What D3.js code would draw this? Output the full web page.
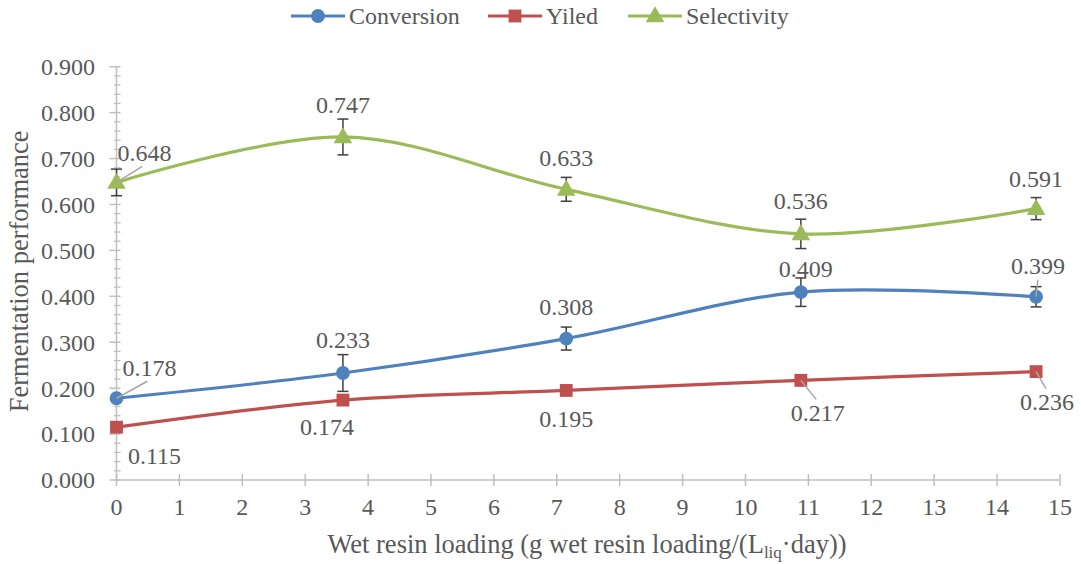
<!DOCTYPE html>
<html>
<head>
<meta charset="utf-8">
<script src="https://cdn.jsdelivr.net/npm/d3@7"></script>
<style>
  html, body { margin: 0; padding: 0; background: #fff; }
  svg { display: block; }
</style>
</head>
<body>
<svg id="chart" width="1081" height="564"></svg>
<script>
// Wet resin loading (x) for every series
const loading = [0, 3.6, 7.15, 10.88, 14.62];

// Series values
const conversion = [0.178, 0.233, 0.308, 0.409, 0.399];
const yiled = [0.115, 0.174, 0.195, 0.217, 0.236];
const selectivity = [0.648, 0.747, 0.633, 0.536, 0.591];

// Error bar half-widths
const conversionErr = [0, 0.040, 0.025, 0.031, 0.022];
const yiledErr = [0, 0, 0, 0, 0];
const selectivityErr = [0.029, 0.039, 0.026, 0.032, 0.024];

// Axis ticks
const xTicks = [0, 1, 2, 3, 4, 5, 6, 7, 8, 9, 10, 11, 12, 13, 14, 15];
const yTicks = [0, 0.1, 0.2, 0.3, 0.4, 0.5, 0.6, 0.7, 0.8, 0.9];

const seriesNames = ["Conversion", "Yiled", "Selectivity"];

// Label placement relative to each marker (pixels) and leader line flags
const labelPlacement = {
  Conversion: [[33, -31, true], [0, -33, false], [0, -32, false], [5, -24, false], [2, -31, true]],
  Yiled: [[38, 28, false], [-16, 27, false], [0, 28, false], [17, 32, true], [11, 30, true]],
  Selectivity: [[28, -30, true], [0, -32, false], [0, -32, false], [0, -33, false], [0, -30, false]]
};

const colors = { Conversion: "#4F81BD", Yiled: "#C0504D", Selectivity: "#9BBB59" };
const shapes = { Conversion: d3.symbolCircle, Yiled: d3.symbolSquare, Selectivity: d3.symbolTriangle };
const shapeSize = { Conversion: 150, Yiled: 165, Selectivity: 150 };
const textColor = "#595959";
const serif = "'Liberation Serif', 'Times New Roman', Tinos, serif";
const fontSize = 24;
const titleSize = 26.5;

const series = [
  { name: "Conversion", values: conversion, err: conversionErr },
  { name: "Yiled", values: yiled, err: yiledErr },
  { name: "Selectivity", values: selectivity, err: selectivityErr }
];

const svg = d3.select("#chart");
const x = d3.scaleLinear().domain([0, 15]).range([116.5, 1060]);
const y = d3.scaleLinear().domain([0, 0.9]).range([480, 66.7]);
const axisColor = "#BFBFBF";

function addText(sel, size) {
  return sel.append("text")
    .style("font-family", serif)
    .style("font-size", size + "px")
    .attr("fill", textColor);
}

// Y axis: line, major and minor ticks
const yAxis = svg.append("g");
yAxis.append("line")
  .attr("x1", x(0)).attr("x2", x(0))
  .attr("y1", y(0)).attr("y2", y(0.9))
  .attr("stroke", axisColor).attr("stroke-width", 1.5);
const minor = d3.range(0, 0.9001, 0.02).filter(v => Math.abs(v * 10 - Math.round(v * 10)) > 1e-6);
yAxis.selectAll("line.minor").data(minor).join("line")
  .attr("class", "minor")
  .attr("x1", x(0) - 2.5).attr("x2", x(0) + 4)
  .attr("y1", d => y(d)).attr("y2", d => y(d))
  .attr("stroke", axisColor).attr("stroke-width", 1.3);
yAxis.selectAll("line.major").data(yTicks).join("line")
  .attr("class", "major")
  .attr("x1", x(0) - 7).attr("x2", x(0) + 4)
  .attr("y1", d => y(d)).attr("y2", d => y(d))
  .attr("stroke", axisColor).attr("stroke-width", 1.5);
yTicks.forEach(d => {
  addText(yAxis, fontSize)
    .attr("x", 95).attr("y", y(d))
    .attr("dy", "0.35em")
    .attr("text-anchor", "end")
    .text(d3.format(".3f")(d));
});

// X axis
const xAxis = svg.append("g");
xAxis.append("line")
  .attr("x1", x(0)).attr("x2", x(15))
  .attr("y1", y(0)).attr("y2", y(0))
  .attr("stroke", axisColor).attr("stroke-width", 1.5);
xAxis.selectAll("line.tick").data(xTicks).join("line")
  .attr("class", "tick")
  .attr("x1", d => x(d)).attr("x2", d => x(d))
  .attr("y1", y(0) - 6).attr("y2", y(0) + 6)
  .attr("stroke", axisColor).attr("stroke-width", 1.5);
xTicks.forEach(d => {
  addText(xAxis, fontSize)
    .attr("x", x(d)).attr("y", 515)
    .attr("text-anchor", "middle")
    .text(d);
});

// Axis titles
addText(svg, titleSize)
  .attr("transform", "translate(19," + ((y(0) + y(0.9)) / 2 - 2) + ") rotate(-90)")
  .attr("text-anchor", "middle")
  .attr("dy", "0.35em")
  .text("Fermentation performance");

const xTitle = addText(svg, titleSize)
  .attr("x", 587).attr("y", 553)
  .attr("text-anchor", "middle");
xTitle.append("tspan").text("Wet resin loading (g wet resin loading/(L");
xTitle.append("tspan").style("font-size", "17px").attr("dy", 5).text("liq");
xTitle.append("tspan").attr("dy", -5).text("·day))");

// Smoothed series lines
const line = d3.line()
  .x((d, i) => x(loading[i]))
  .y(d => y(d))
  .curve(d3.curveCardinal.tension(0));

const plot = svg.append("g");
series.forEach(s => {
  plot.append("path")
    .datum(s.values)
    .attr("d", line)
    .attr("fill", "none")
    .attr("stroke", colors[s.name])
    .attr("stroke-width", 3.2)
    .attr("stroke-linecap", "round");
});

// Error bars
series.forEach(s => {
  const g = plot.append("g");
  s.values.forEach((v, i) => {
    if (!s.err[i]) return;
    const cx = x(loading[i]);
    const top = y(v + s.err[i]);
    const bot = y(v - s.err[i]);
    g.append("line").attr("x1", cx).attr("x2", cx).attr("y1", top).attr("y2", bot)
      .attr("stroke", "#404040").attr("stroke-width", 1.5);
    [top, bot].forEach(yy => {
      g.append("line").attr("x1", cx - 5.5).attr("x2", cx + 5.5).attr("y1", yy).attr("y2", yy)
        .attr("stroke", "#404040").attr("stroke-width", 1.5);
    });
  });
});

// Markers
series.forEach(s => {
  plot.selectAll(null).data(s.values).join("path")
    .attr("transform", (d, i) => "translate(" + x(loading[i]) + "," + (y(d) + (s.name === "Selectivity" ? 1 : 0)) + ")")
    .attr("d", d3.symbol().type(shapes[s.name]).size(shapeSize[s.name]))
    .attr("fill", colors[s.name]);
});

// Data labels with leader lines
const labels = svg.append("g");
series.forEach(s => {
  s.values.forEach((v, i) => {
    const [dx, dy, leader] = labelPlacement[s.name][i];
    const mx = x(loading[i]), my = y(v);
    const lx = mx + dx, ly = my + dy;
    if (leader) {
      const ex = dx === 0 ? lx : (dx > 0 ? lx - Math.min(dx, 22) * 0.1 : lx);
      const ey = ly + (dy < 0 ? 14 : -13);
      labels.append("line")
        .attr("x1", mx).attr("y1", my)
        .attr("x2", ex).attr("y2", ey)
        .attr("stroke", "#A6A6A6").attr("stroke-width", 1.5);
    }
    addText(labels, fontSize)
      .attr("x", lx).attr("y", ly)
      .attr("dy", "0.35em")
      .attr("text-anchor", "middle")
      .text(d3.format(".3f")(v));
  });
});

// Legend
const legendItems = [
  { name: "Conversion", x0: 291 },
  { name: "Yiled", x0: 488 },
  { name: "Selectivity", x0: 628 }
];
const legend = svg.append("g");
legendItems.forEach(it => {
  legend.append("line")
    .attr("x1", it.x0).attr("x2", it.x0 + 54)
    .attr("y1", 16).attr("y2", 16)
    .attr("stroke", colors[it.name]).attr("stroke-width", 3.2);
  legend.append("path")
    .attr("transform", "translate(" + (it.x0 + 27) + "," + (it.name === "Selectivity" ? 17 : 16) + ")")
    .attr("d", d3.symbol().type(shapes[it.name]).size(shapeSize[it.name]))
    .attr("fill", colors[it.name]);
  addText(legend, fontSize)
    .attr("x", it.x0 + 58).attr("y", 16)
    .attr("dy", "0.35em")
    .text(it.name);
});
</script>
</body>
</html>
